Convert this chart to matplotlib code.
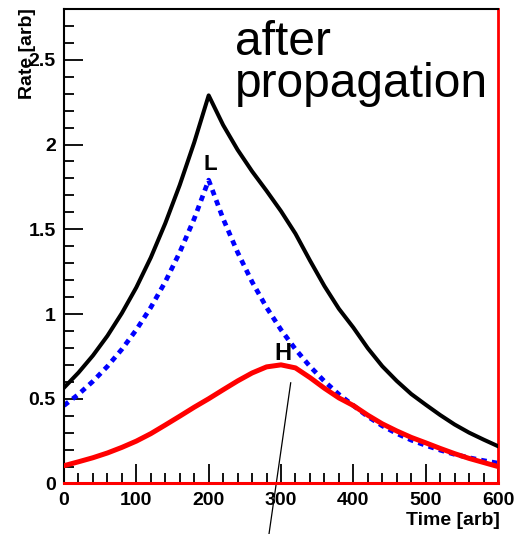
import matplotlib.pyplot as plt
from matplotlib.ticker import MultipleLocator

plt.rcParams['font.family'] = ['Liberation Sans', 'DejaVu Sans']

# time bins [arb]
time = [0, 20, 40, 60, 80, 100, 120, 140, 160, 180, 200,
        220, 240, 260, 280, 300, 320, 340, 360, 380, 400,
        420, 440, 460, 480, 500, 520, 540, 560, 580, 600]

# low energy component (L)
rate_low = [0.46, 0.526, 0.603, 0.691, 0.792, 0.907, 1.039, 1.19, 1.364, 1.562, 1.79,
            1.562, 1.364, 1.19, 1.039, 0.907, 0.792, 0.691, 0.603, 0.526, 0.46,
            0.395, 0.34, 0.295, 0.256, 0.225, 0.197, 0.172, 0.152, 0.135, 0.12]

# high energy component (H)
rate_high = [0.105, 0.128, 0.152, 0.18, 0.213, 0.25, 0.294, 0.345, 0.397, 0.45, 0.50,
             0.553, 0.605, 0.652, 0.688, 0.70, 0.682, 0.625, 0.562, 0.505, 0.46,
             0.403, 0.352, 0.31, 0.272, 0.24, 0.207, 0.176, 0.148, 0.124, 0.10]

# total
rate_total = [0.565, 0.654, 0.755, 0.871, 1.005, 1.157, 1.333, 1.535, 1.761, 2.012, 2.29,
              2.115, 1.969, 1.842, 1.727, 1.607, 1.474, 1.316, 1.165, 1.031, 0.92,
              0.798, 0.692, 0.605, 0.528, 0.465, 0.404, 0.348, 0.30, 0.259, 0.22]

fig = plt.figure(figsize=(5.14, 5.34), dpi=100)
ax = fig.add_axes([0.1245, 0.0946, 0.8444, 0.8886])

ax.plot(time, rate_total, color='black', lw=2.9, zorder=3)
ax.plot(time, rate_low, color='#0000ff', lw=3.4, ls=(0, (1.2, 1.1)), zorder=2)
ax.plot(time, rate_high, color='#ff0000', lw=3.6, zorder=4)

ax.set_xlim(0, 600)
ax.set_ylim(0, 2.8)

ax.xaxis.set_major_locator(MultipleLocator(100))
ax.xaxis.set_minor_locator(MultipleLocator(20))
ax.yaxis.set_major_locator(MultipleLocator(0.5))
ax.yaxis.set_minor_locator(MultipleLocator(0.1))
ax.set_yticks([0, 0.5, 1, 1.5, 2, 2.5])
ax.set_yticklabels(['0', '0.5', '1', '1.5', '2', '2.5'])

ax.tick_params(which='both', direction='in', top=False, right=False,
               width=1.3, labelsize=14, color='black')
ax.tick_params(which='major', length=14, pad=6)
ax.tick_params(which='minor', length=7)
for lab in ax.get_xticklabels() + ax.get_yticklabels():
    lab.set_fontweight('bold')

for side in ['left', 'top']:
    ax.spines[side].set_linewidth(1.5)
    ax.spines[side].set_color('black')
ax.spines['right'].set_color('#ff0000')
ax.spines['right'].set_linewidth(2)
ax.spines['bottom'].set_color('#ff0000')
ax.spines['bottom'].set_linewidth(2.2)

ax.text(1.005, -0.06, 'Time [arb]', transform=ax.transAxes, ha='right', va='top',
        fontsize=14, fontweight='bold')
fig.text(0.053, 0.985, 'Rate [arb]', rotation=90, ha='center', va='top',
         fontsize=14, fontweight='bold')

ax.text(202, 1.88, 'L', ha='center', va='center', fontsize=16, fontweight='bold')
ax.text(303, 0.765, 'H', ha='center', va='center', fontsize=17, fontweight='bold')

ax.text(236, 2.735, 'after\npropagation', ha='left', va='top', fontsize=34.5,
        linespacing=0.92)

# pointer line from the H peak down past the axis
ax.plot([313.4, 283.4], [0.594, -0.298], color='black', lw=0.9, clip_on=False)

fig.savefig('out.png', dpi=100)
